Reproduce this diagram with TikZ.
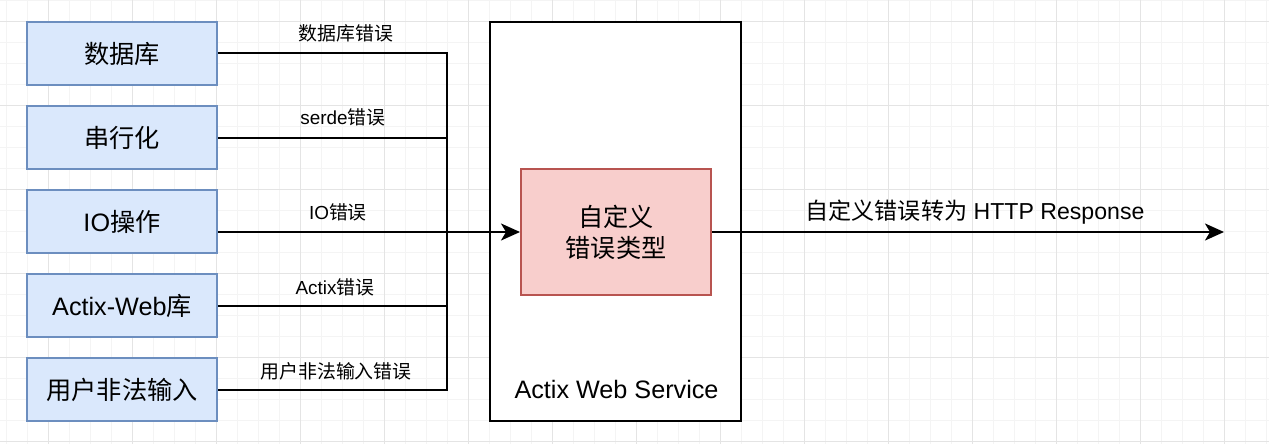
\documentclass[tikz,border=0pt]{standalone}
\usepackage{fontspec}
\setmainfont{Liberation Sans}
\newfontfamily\cjk{Noto Sans CJK SC}
\usetikzlibrary{arrows.meta}
\definecolor{srcf}{HTML}{DAE8FC}
\definecolor{srcb}{HTML}{6C8EBF}
\definecolor{errf}{HTML}{F8CECC}
\definecolor{errb}{HTML}{B85450}
\definecolor{gridminor}{HTML}{F4F4F4}
\definecolor{gridmajor}{HTML}{E4E4E4}
\begin{document}
\begin{tikzpicture}[x=1pt,y=-1pt,
  srcbox/.style={draw=srcb, fill=srcf, line width=2pt, minimum width=190pt, minimum height=63pt, inner sep=0pt, font=\fontsize{25.2}{30}\selectfont},
  errbox/.style={draw=errb, fill=errf, line width=2pt, minimum width=190pt, minimum height=126pt, inner sep=0pt, align=center, font=\fontsize{25.2}{31}\selectfont},
  svcbox/.style={draw=black, fill=white, line width=2pt, minimum width=251pt, minimum height=399pt, inner sep=0pt},
  conn/.style={draw=black, line width=2pt},
  tip/.style={-{Stealth[length=19pt,width=17pt,inset=5pt]}},
  elabel/.style={font=\fontsize{18.9}{22}\selectfont, inner sep=0pt},
  biglabel/.style={font=\fontsize{23.1}{28}\selectfont, inner sep=0pt},
  minor/.style={draw=gridminor, line width=1pt},
  major/.style={draw=gridmajor, line width=1pt}
]
\useasboundingbox (0,0) rectangle (1269,444);
% grid
\foreach \i in {0,...,60} { \draw[minor] (6.3+21*\i,0) -- (6.3+21*\i,444); }
\foreach \j in {0,...,21} { \draw[minor] (0,0.7+21*\j) -- (1269,0.7+21*\j); }
\foreach \i in {0,...,14} { \draw[major] (48.3+84*\i,0) -- (48.3+84*\i,444); }
\foreach \j in {0,...,5} { \draw[major] (0,21.7+84*\j) -- (1269,21.7+84*\j); }

% service container
\node[svcbox] (svc) at (615.5,221.5) {};
\node[font=\fontsize{25.2}{30}\selectfont, inner sep=0pt] (svclbl) at (616.5,389) {Actix Web Service};

% sources
\node[srcbox] (b1) at (122,53.5) {\cjk 数据库};
\node[srcbox] (b2) at (122,137.5) {\cjk 串行化};
\node[srcbox] (b3) at (122,221.5) {IO{\cjk 操作}};
\node[srcbox] (b4) at (122,305.5) {Actix-Web{\cjk 库}};
\node[srcbox] (b5) at (122,389.5) {\cjk 用户非法输入};

% custom error
\node[errbox] (err) at (616,232) {{\cjk 自定义}\\{\cjk 错误类型}};

\coordinate (tx) at (447,232);
\coordinate (out) at (1224,232);

% connectors
\draw[conn] (b1.east) -| (tx);
\draw[conn] (b2.east) -| (tx);
\draw[conn] (b4.east) -| (tx);
\draw[conn] (b5.east) -| (tx);
\draw[conn, tip] (b3.east |- tx) -- (err.west);
\draw[conn, tip] (err.east) -- (out);

% edge labels
\node[elabel] (l1) at (346,33) {\cjk 数据库错误};
\node[elabel] (l2) at (343,117) {serde{\cjk 错误}};
\node[elabel] (l3) at (338,212) {IO{\cjk 错误}};
\node[elabel] (l4) at (335,287) {Actix{\cjk 错误}};
\node[elabel] (l5) at (336,371) {\cjk 用户非法输入错误};
\node[biglabel] (l6) at (975,212) {{\cjk 自定义错误转为} HTTP Response};
\end{tikzpicture}
\end{document}
